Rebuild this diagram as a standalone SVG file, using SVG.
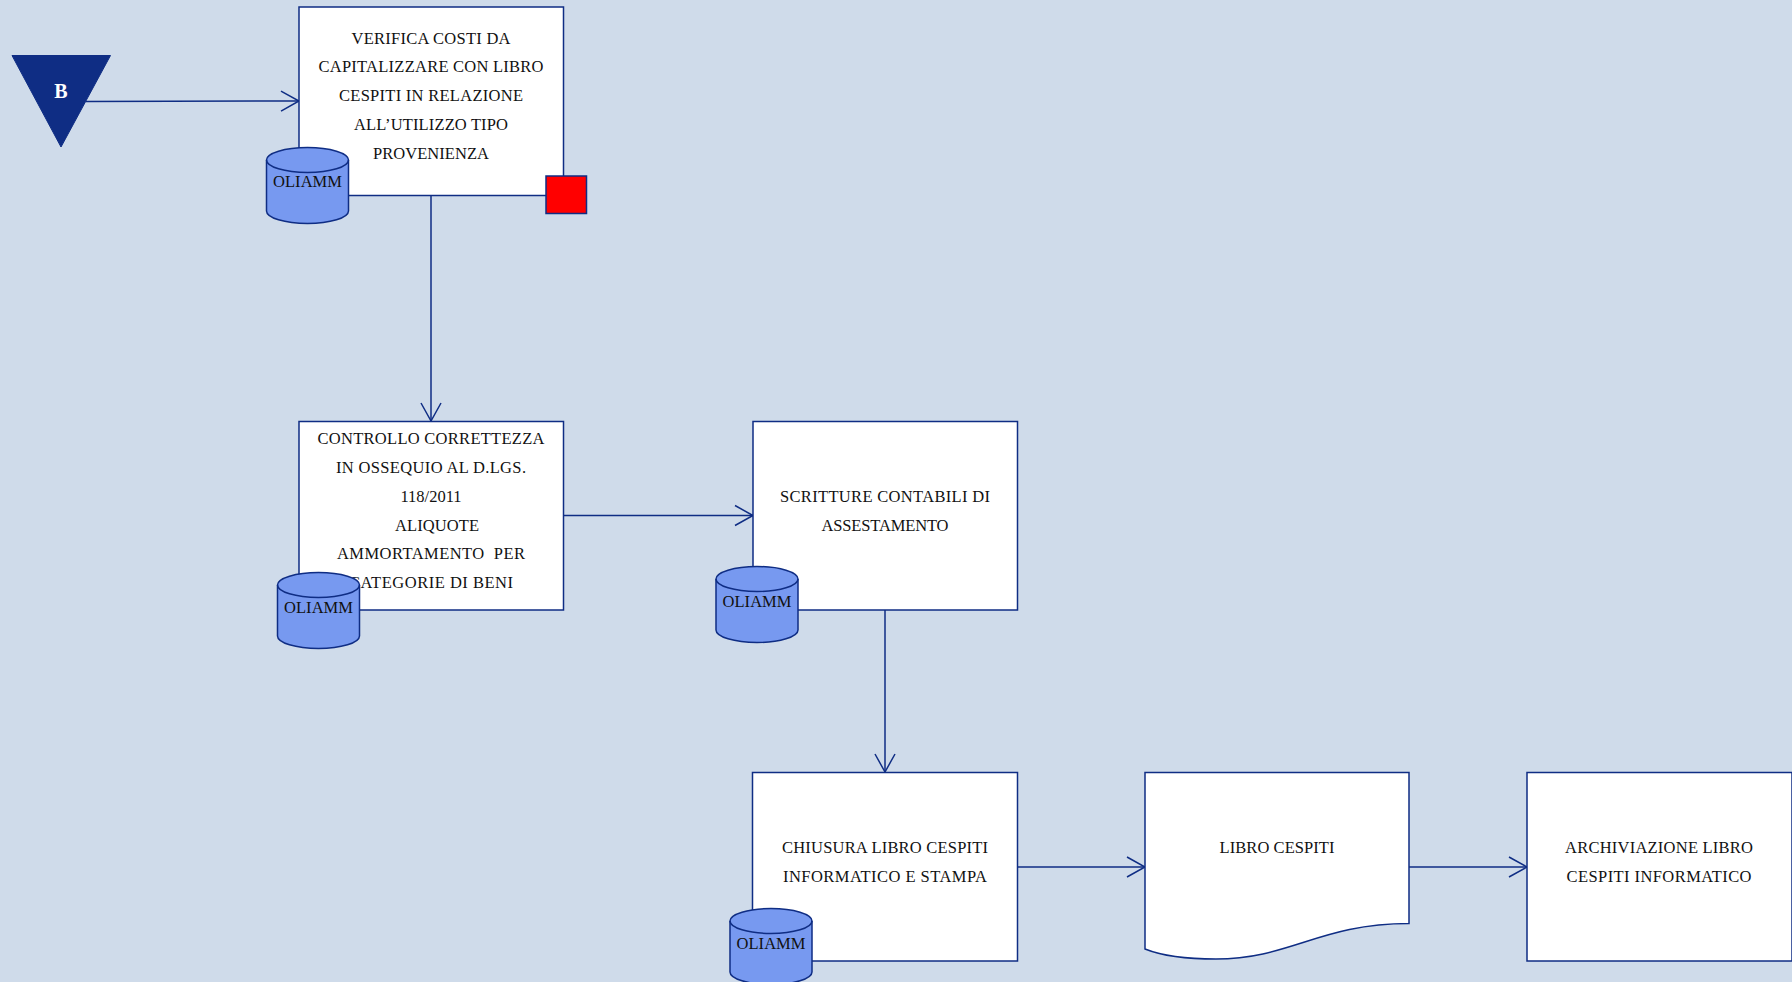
<svg xmlns="http://www.w3.org/2000/svg" width="1792" height="982" viewBox="0 0 1792 982">
<style>
.box{fill:#fff;stroke:#0F2D84;stroke-width:1.5}
.cyl{fill:#7799F0;stroke:#0F2D84;stroke-width:1.5}
.lbl{font-family:"Liberation Serif","Times New Roman",serif;font-size:16.5px;fill:#111;text-anchor:middle;white-space:pre}
.con{fill:none;stroke:#0F2D84;stroke-width:1.5;marker-end:url(#open)}
</style>
<defs>
<marker id="open" markerUnits="userSpaceOnUse" markerWidth="24" markerHeight="26" refX="19" refY="11" orient="auto" overflow="visible">
<path d="M1 1L19 11L1 21" fill="none" stroke="#0F2D84" stroke-width="1.500"/>
</marker>
<g id="cylinder-shape">
<path class="cyl" d="M0 13A41 12.5 0 0 1 82 13V64A41 12.500 0 0 1 0 64Z"/>
<path class="cyl" style="fill:none" d="M0 13A41 12.500 0 0 0 82 13"/>
</g>
</defs>
<rect width="1792" height="982" fill="#CFDBEA"/>
<g id="connectors">
<path class="con" d="M86 101.500L299 101"/>
<path class="con" d="M431 195V421"/>
<path class="con" d="M563.500 515.500H753"/>
<path class="con" d="M885 610V772"/>
<path class="con" d="M1017.500 867H1145"/>
<path class="con" d="M1409 867H1527"/>
</g>
<g id="node-b">
<path d="M12 55.500H110.500L61 147Z" fill="#0F2D84" stroke="#0F2D84" stroke-width="1"/>
<text x="61" y="98" style="font-family:'Liberation Serif','Times New Roman',serif;font-size:20px;font-weight:bold;fill:#fff;text-anchor:middle">B</text>
</g>
<g id="node-verifica">
<rect class="box" x="299" y="7" width="264.500" height="188.500"/>
<text class="lbl" x="431" y="44" textLength="159">VERIFICA COSTI DA</text>
<text class="lbl" x="431" y="72" textLength="225">CAPITALIZZARE CON LIBRO</text>
<text class="lbl" x="431" y="101" textLength="184">CESPITI IN RELAZIONE</text>
<text class="lbl" x="431" y="130" textLength="154">ALL’UTILIZZO TIPO</text>
<text class="lbl" x="431" y="159" textLength="116">PROVENIENZA</text>
</g>
<g id="db-verifica">
<use href="#cylinder-shape" x="266.500" y="147"/>
<text class="lbl" x="307.500" y="187" textLength="69">OLIAMM</text>
</g>
<g id="flag-verifica">
<rect x="546" y="176" width="40.500" height="37.500" fill="#FF0000" stroke="#0F2D84" stroke-width="1.500"/>
</g>
<g id="node-controllo">
<rect class="box" x="299" y="421.500" width="264.500" height="188.500"/>
<text class="lbl" x="431" y="444" textLength="227">CONTROLLO CORRETTEZZA</text>
<text class="lbl" x="431" y="473" textLength="190">IN OSSEQUIO AL D.LGS.</text>
<text class="lbl" x="431" y="502" textLength="61">118/2011</text>
<text class="lbl" x="437" y="531" textLength="84">ALIQUOTE</text>
<text class="lbl" x="431" y="559" textLength="188">AMMORTAMENTO  PER</text>
<text class="lbl" x="431" y="588" textLength="164">CATEGORIE DI BENI</text>
</g>
<g id="db-controllo">
<use href="#cylinder-shape" x="277.500" y="572"/>
<text class="lbl" x="318.500" y="613" textLength="69">OLIAMM</text>
</g>
<g id="node-scritture">
<rect class="box" x="753" y="421.500" width="264.500" height="188.500"/>
<text class="lbl" x="885" y="502" textLength="210">SCRITTURE CONTABILI DI</text>
<text class="lbl" x="885" y="531" textLength="127">ASSESTAMENTO</text>
</g>
<g id="db-scritture">
<use href="#cylinder-shape" x="716" y="566"/>
<text class="lbl" x="757" y="607" textLength="69">OLIAMM</text>
</g>
<g id="node-chiusura">
<rect class="box" x="752.500" y="772.500" width="265" height="188.500"/>
<text class="lbl" x="885" y="853" textLength="206">CHIUSURA LIBRO CESPITI</text>
<text class="lbl" x="885" y="882" textLength="204">INFORMATICO E STAMPA</text>
</g>
<g id="db-chiusura">
<use href="#cylinder-shape" x="730" y="908"/>
<text class="lbl" x="771" y="949" textLength="69">OLIAMM</text>
</g>
<g id="node-libro">
<path class="box" d="M1145 772.500H1409V923.500C1320 923.500 1290 959 1216 959C1190 959 1165 957 1145 949Z"/>
<text class="lbl" x="1277" y="853" textLength="115">LIBRO CESPITI</text>
</g>
<g id="node-archiviazione">
<rect class="box" x="1527" y="772.500" width="265" height="188.500"/>
<text class="lbl" x="1659" y="853" textLength="188">ARCHIVIAZIONE LIBRO</text>
<text class="lbl" x="1659" y="882" textLength="185">CESPITI INFORMATICO</text>
</g>
</svg>
